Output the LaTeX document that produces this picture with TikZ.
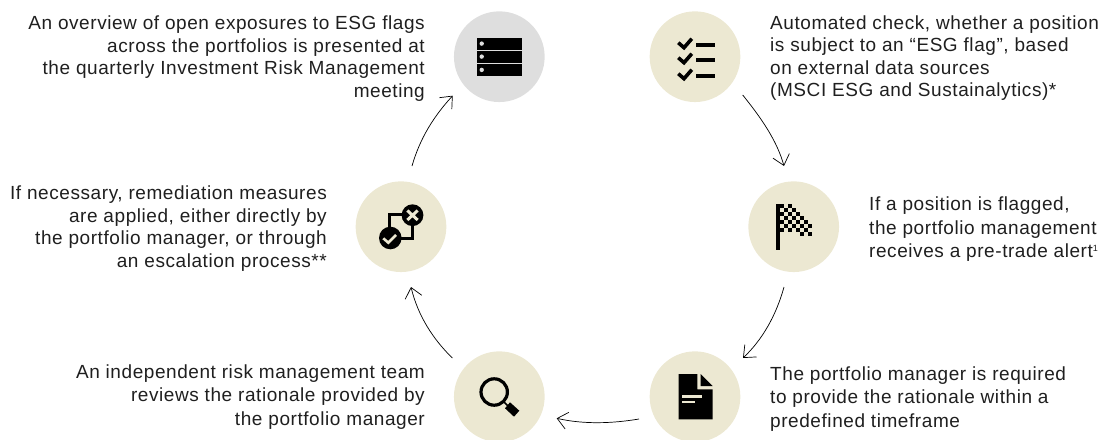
\documentclass[tikz,border=0pt]{standalone}
\usepackage{fontspec}
\setmainfont[LetterSpace=3.0]{Liberation Sans}
\usetikzlibrary{arrows.meta,calc}
\definecolor{beige}{HTML}{ECE8D2}
\definecolor{greyc}{HTML}{DEDEDE}
\tikzset{
  disc/.style={circle,minimum size=90.7pt,inner sep=0pt,fill=beige},
  lab/.style={font=\fontsize{19pt}{22.6pt}\selectfont,inner sep=0pt,text=black!88},
  tall/.style={font=\fontsize{19pt}{23.5pt}\selectfont},
  labl/.style={lab,align=right,anchor=east},
  labr/.style={lab,align=left,anchor=west},
  flow/.style={line width=0.7pt,-{Straight Barb[length=10pt,width=17pt,line width=0.7pt]}},
}
\begin{document}
\begin{tikzpicture}[x=1pt,y=-1pt,line cap=butt]
\useasboundingbox (0,0) rectangle (1113,439);
\node[disc,fill=greyc] (n1) at (499.3,56.7) {};
\node[disc] (n2) at (695,56.7) {};
\node[disc] (n3) at (793.7,226.7) {};
\node[disc] (n4) at (695,396.7) {};
\node[disc] (n5) at (499.3,396.7) {};
\node[disc] (n6) at (401,226.7) {};
% labels
\node[labl] (t1) at (425,58.5) {An overview of open exposures to ESG flags\\across the portfolios is presented at\\the quarterly Investment Risk Management\\meeting};
\node[labr] (t2) at (770,58) {Automated check, whether a position\\is subject to an “ESG flag”, based\\on external data sources\\(MSCI ESG and Sustainalytics)*};
\node[labr,tall] (t3) at (869,229.5) {If a position is flagged,\\the portfolio management\\receives a pre-trade alert\raisebox{6pt}{\fontsize{9pt}{9pt}\selectfont 1}};
\node[labr,tall] (t4) at (770,399) {The portfolio manager is required\\to provide the rationale within a\\predefined timeframe};
\node[labl,tall] (t5) at (425,397) {An independent risk management team\\reviews the rationale provided by\\the portfolio manager};
\node[labl] (t6) at (327,228.5) {If necessary, remediation measures\\are applied, either directly by\\the portfolio manager, or through\\an escalation process**};
% arrows
\coordinate (a1s) at (412,166); \coordinate (a1e) at (452.7,95.7);
\draw[flow] (a1s) .. controls (420,138) and (434,116) .. (a1e);
\coordinate (a2s) at (742.7,95); \coordinate (a2e) at (784,166);
\draw[flow] (a2s) .. controls (762,119) and (777,141) .. (a2e);
\coordinate (a3s) at (784,287); \coordinate (a3e) at (743,358);
\draw[flow] (a3s) .. controls (776,316) and (762,340) .. (a3e);
\coordinate (a4s) at (639,419); \coordinate (a4e) at (556.7,418.3);
\draw[flow] (a4s) .. controls (612,423.5) and (584,424.5) .. (a4e);
\coordinate (a5s) at (452.3,358); \coordinate (a5e) at (411,287);
\draw[flow] (a5s) .. controls (433,339) and (418,316) .. (a5e);
% server icon
\foreach \y in {37.7,50.7,64}{\fill (476.7,\y) rectangle (522,\y+11.8); \fill[greyc] (481.7,\y+5.9) circle (2.2pt);}
% checklist
\foreach \y in {44.7,59.7,75.7}{
 \fill (696,\y-2) rectangle (715,\y+2);
 \draw[line width=3.6pt] (678.3,\y-2) -- (684,\y+3) -- (691.8,\y-6);
}
% flag
\fill (776,204) rectangle (780,250);
\foreach \c/\r in {0/0,0/2,0/4,0/6,1/1,1/3,1/5,2/0,2/2,2/4,2/6,3/1,3/3,3/5,4/2,4/4,4/6,5/3,5/5,5/7,6/4,6/6,7/5,7/7}{\fill (780+4*\c,204+4*\r) rectangle +(4,4);}
% document
\fill (678.7,374) -- (697.3,374) -- (697.3,389.3) -- (712.7,389.3) -- (712.7,419.3) -- (678.7,419.3) -- cycle;
\fill (700.7,374) -- (712.7,386) -- (700.7,386) -- cycle;
\fill[beige] (682.3,395) rectangle (701.7,397.7);
\fill[beige] (682.3,400.7) rectangle (695,403.3);
% magnifier
\draw[line width=3.2pt] (494.2,392) circle (13.2pt);
\draw[line width=1.5pt] (504,402) -- (508,406);
\fill (505,408.3) -- (510,402.3) -- (519.3,410.7) -- (514,416.7) -- cycle;
% decision icon
\draw[line width=3pt] (389.5,230) -- (389.5,214.7) -- (402,214.7);
\draw[line width=3pt] (412.5,224) -- (412.5,238) -- (401,238);
\fill (412.5,215.2) circle (10.9pt);
\fill (390.3,238) circle (11.3pt);
\draw[beige,line width=3pt] (407.3,210.5) -- (417.7,220) (417.7,210.5) -- (407.3,220);
\draw[beige,line width=2.6pt] (383.3,238.3) -- (388.3,242.7) -- (396,235);
\end{tikzpicture}
\end{document}
